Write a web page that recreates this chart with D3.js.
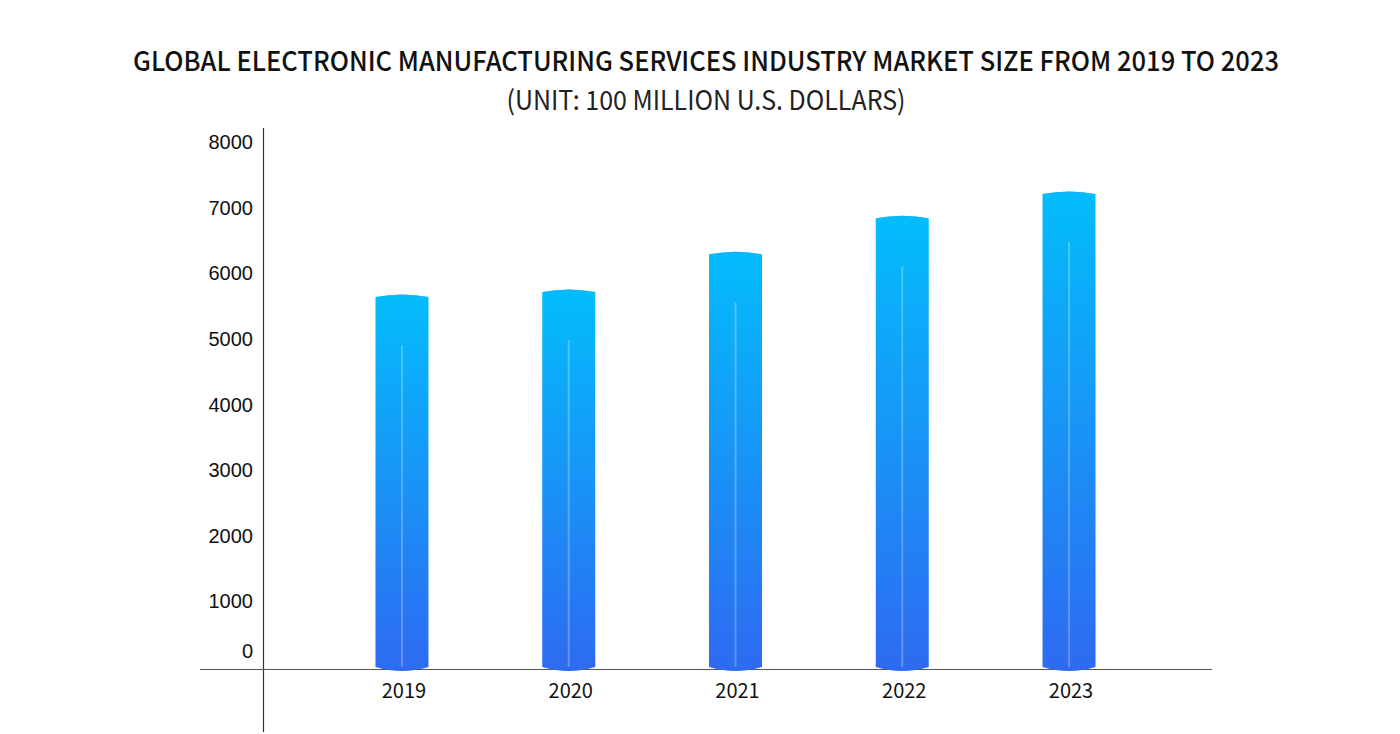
<!DOCTYPE html>
<html><head><meta charset="utf-8">
<script src="https://cdn.jsdelivr.net/npm/d3@7"></script>
<style>body{margin:0;background:#fff}svg{display:block}</style>
</head><body>
<svg id="c" width="1400" height="734"></svg>
<script>
const categories = ["2019","2020","2021","2022","2023"];
const values = [5670, 5745, 6320, 6870, 7240];
const yTicks = [0,1000,2000,3000,4000,5000,6000,7000,8000];
const titleText = "GLOBAL ELECTRONIC MANUFACTURING SERVICES INDUSTRY MARKET SIZE FROM 2019 TO 2023";
const subtitleText = "(UNIT: 100 MILLION U.S. DOLLARS)";

const svg = d3.select("#c");
const x = d3.scaleBand().domain(categories).range([320.6, 1154.4]).padding(0);
const y = d3.scaleLinear().domain([0, 8000]).range([667, 142]);
const barW = 53;

const defs = svg.append("defs");
const g = defs.append("linearGradient").attr("id","bg").attr("x1",0).attr("y1",0).attr("x2",0).attr("y2",1);
g.append("stop").attr("offset","0%").attr("stop-color","#03bdfb");
g.append("stop").attr("offset","100%").attr("stop-color","#2e6af1");

svg.append("text").attr("x",706).attr("y",71).attr("text-anchor","middle")
  .attr("font-family","'Noto Sans CJK SC','Noto Sans',sans-serif").attr("font-weight",500)
  .attr("font-size",27).attr("fill","#111").attr("textLength",1146).attr("lengthAdjust","spacingAndGlyphs")
  .text(titleText);
svg.append("text").attr("x",706).attr("y",110).attr("text-anchor","middle")
  .attr("font-family","'Noto Sans CJK SC','Noto Sans',sans-serif").attr("font-weight",400)
  .attr("font-size",27).attr("fill","#222").attr("textLength",399).attr("lengthAdjust","spacingAndGlyphs")
  .text(subtitleText);

// axes lines
svg.append("line").attr("x1",263.5).attr("x2",263.5).attr("y1",128).attr("y2",732).attr("stroke","#333").attr("stroke-width",1.2);
svg.append("line").attr("x1",200).attr("x2",1212).attr("y1",669.5).attr("y2",669.5).attr("stroke","#555").attr("stroke-width",1.2);

// y labels
const yl = svg.append("g").attr("font-family","'Liberation Sans',Arial,sans-serif").attr("font-size",20).attr("fill","#111");
yl.selectAll("text").data(yTicks).join("text")
  .attr("x",253).attr("text-anchor","end")
  .attr("y",d => d===0 ? y(d)-9 : y(d)+7)
  .text(d => d);

// bars
const bars = svg.append("g").selectAll("g").data(categories).join("g");
bars.each(function(c,i){
  const cx = x(c) + x.bandwidth()/2 - 2;
  const top = y(values[i]);
  const bot = y(0);
  const x0 = cx - barW/2, x1 = cx + barW/2;
  const p = `M${x0},${top+2} Q${cx},${top-3} ${x1},${top+2} L${x1},${bot} Q${cx},${bot+8} ${x0},${bot} Z`;
  const s = d3.select(this);
  s.append("path").attr("d",p).attr("fill","url(#bg)");
  s.append("path").attr("d",`M${x0},${top+2} Q${cx},${top-3} ${x1},${top+2} Q${cx},${top+1} ${x0},${top+2} Z`).attr("fill","#1aaef5").attr("opacity",0.6);
  s.append("line").attr("x1",cx).attr("x2",cx).attr("y1",top+50).attr("y2",bot)
    .attr("stroke","#ffffff").attr("stroke-opacity",0.25).attr("stroke-width",2);
});

// x labels
svg.append("g").attr("font-family","'Noto Sans CJK SC','Noto Sans',sans-serif").attr("font-size",20).attr("fill","#111")
  .selectAll("text").data(categories).join("text")
  .attr("x",d => x(d)+x.bandwidth()/2).attr("y",698).attr("text-anchor","middle").text(d=>d);
</script>
</body></html>
